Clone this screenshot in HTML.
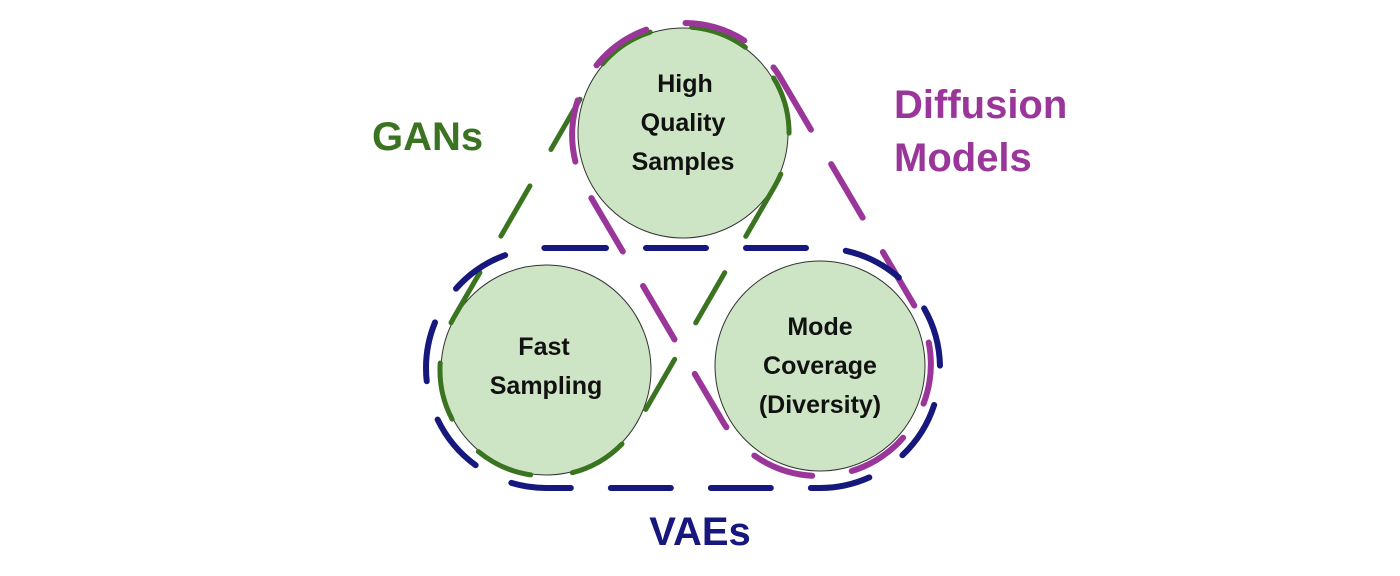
<!DOCTYPE html>
<html><head><meta charset="utf-8"><style>
html,body{margin:0;padding:0;background:#fff;}
svg{display:block;}
text{font-family:"Liberation Sans",sans-serif;font-weight:bold;}
</style></head><body>
<svg width="1400" height="576" viewBox="0 0 1400 576">
<rect width="1400" height="576" fill="#fff"/>
<g fill="#cde5c5" stroke="#333" stroke-width="1">
<circle cx="683" cy="133" r="105"/>
<circle cx="546" cy="370" r="105"/>
<circle cx="820" cy="366" r="105"/>
</g>
<g fill="none" stroke-linecap="round">
<path d="M774.8 186.1 L637.8 423.1 A106 106 0 0 1 454.2 316.9 L591.2 79.9 A106 106 0 0 1 774.8 186.1 Z" stroke="#3a7420" stroke-width="5" stroke-dasharray="58 42"/>
<path d="M779.5 76.2 L916.5 309.2 A112 112 0 0 1 723.5 422.8 L586.5 189.8 A112 112 0 0 1 779.5 76.2 Z" stroke="#9a3599" stroke-width="6" stroke-dasharray="62 40"/>
<path d="M546 248 L820 248 A120 120 0 0 1 820 488 L546 488 A120 120 0 0 1 546 248 Z" stroke="#16187e" stroke-width="6" stroke-dasharray="60 40"/>
</g>
<g fill="#111" font-size="25" text-anchor="middle">
<text x="685" y="92">High</text>
<text x="683" y="131">Quality</text>
<text x="683" y="170">Samples</text>
<text x="544" y="355">Fast</text>
<text x="546" y="394">Sampling</text>
<text x="820" y="335">Mode</text>
<text x="820" y="374">Coverage</text>
<text x="820" y="413">(Diversity)</text>
</g>
<text x="372" y="150" font-size="40" fill="#3a7420">GANs</text>
<text x="894" y="118" font-size="40" fill="#9a3599">Diffusion</text>
<text x="894" y="171" font-size="40" fill="#9a3599">Models</text>
<text x="700" y="545" font-size="40" fill="#16187e" text-anchor="middle">VAEs</text>
</svg>
</body></html>
